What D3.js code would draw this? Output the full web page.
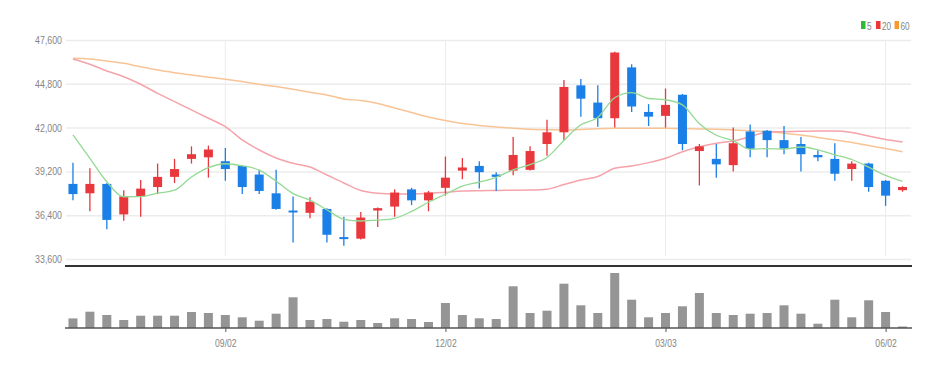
<!DOCTYPE html>
<html>
<head>
<meta charset="utf-8">
<script src="https://cdnjs.cloudflare.com/ajax/libs/d3/7.8.5/d3.min.js"></script>
<style>
  body { margin: 0; background: #fff; }
  text { font-family: "Liberation Sans", Arial, sans-serif; }
</style>
</head>
<body>
<div id="chart"></div>
<script>
// weekly candles (monday of each week)
var weeks = ["07/01", "07/08", "07/15", "07/22", "07/29", "08/05", "08/12", "08/19", "08/26", "09/02",
    "09/09", "09/16", "09/23", "09/30", "10/07", "10/14", "10/21", "10/28", "11/04", "11/11",
    "11/18", "11/25", "12/02", "12/09", "12/16", "12/23", "12/30", "01/06", "01/13", "01/20",
    "01/27", "02/03", "02/10", "02/17", "02/24", "03/03", "03/10", "03/17", "03/24", "03/31",
    "04/07", "04/14", "04/21", "04/28", "05/05", "05/12", "05/19", "05/26", "06/02", "06/09"];

var open = [38400, 37800, 38400, 36450, 37600, 38200, 38850, 40000, 40100, 39850,
    39550, 39000, 37800, 36700, 36550, 36800, 35000, 34900, 36700, 36950,
    38050, 37350, 38150, 39250, 39550, 39000, 39250, 39300, 40950, 41700,
    44700, 43600, 42600, 45850, 43000, 42750, 44100, 40500, 40000, 39600,
    41750, 41800, 41200, 40950, 40250, 40000, 39350, 39700, 38600, 38000];
var high = [39750, 39400, 38450, 38000, 38650, 39700, 40000, 40800, 40850, 40700,
    39600, 39300, 39300, 37600, 37550, 36850, 36300, 36600, 36900, 38050,
    38150, 37950, 40150, 40050, 39850, 39150, 41400, 40800, 42500, 45050,
    45100, 44700, 46850, 46050, 43500, 44500, 44150, 40950, 40950, 42000,
    42200, 41850, 42100, 41400, 40550, 41000, 39850, 39750, 38650, 38250];
var low = [37350, 36650, 35500, 36050, 36300, 37750, 38450, 39700, 38800, 38600,
    37750, 37750, 36750, 34650, 36200, 34650, 34450, 34850, 35650, 36300,
    37050, 36650, 37650, 38700, 38100, 37950, 38950, 39250, 40200, 41200,
    42700, 42050, 42000, 43000, 42100, 42000, 40550, 38300, 38800, 39200,
    40100, 40100, 40300, 39200, 39850, 38600, 38600, 37900, 37000, 37900];
var close = [37750, 38400, 36100, 37600, 38100, 38850, 39350, 40300, 40600, 39350,
    38200, 37950, 36800, 36600, 37250, 35150, 34900, 36250, 36850, 37850,
    37350, 37850, 38800, 39450, 39150, 38850, 40250, 40500, 41700, 44600,
    43850, 42600, 46800, 43350, 42700, 43450, 40950, 40800, 39650, 41000,
    40650, 41200, 40650, 40300, 40100, 39050, 39700, 38200, 37650, 38200];
var volume = [9600, 16300, 13000, 8000, 12300, 12300, 12300, 16000, 15000, 13000,
    10700, 7300, 14300, 30700, 8000, 9000, 6300, 8000, 5000, 9700,
    9000, 6000, 25000, 13000, 9700, 9000, 41700, 15000, 17300, 44300,
    22700, 15000, 55000, 28300, 10700, 15000, 21700, 35000, 15000, 13000,
    14300, 15000, 22700, 14300, 4300, 28300, 10700, 27700, 16000, 1500];

// moving averages
var ma5 = [41530, 40040, 38540, 37580, 37590, 37810, 38000, 38840, 39440, 39690,
    39560, 39280, 38580, 37780, 37360, 36750, 36140, 36030, 36080, 36200,
    36640, 37230, 37740, 38260, 38520, 38820, 39300, 39640, 40090, 41180,
    42180, 42650, 43910, 44240, 43860, 43780, 43450, 42250, 41510, 41170,
    40610, 40660, 40630, 40760, 40580, 40260, 39960, 39470, 38940, 38560];
var ma20 = [46390, 46050, 45620, 45250, 44770, 44190, 43660, 43130, 42600, 42060,
    41210, 40570, 40060, 39720, 39480, 38970, 38460, 37980, 37800, 37750,
    37750, 37800, 37860, 37950, 37970, 37980, 38000, 38010, 38060, 38360,
    38650, 38870, 39400, 39550, 39760, 40040, 40460, 40780, 41000, 41140,
    41420, 41720, 41740, 41760, 41780, 41780, 41690, 41460, 41240, 41080];
var ma60 = [46430, 46390, 46260, 46110, 45890, 45680, 45510, 45360, 45220, 45090,
    44940, 44770, 44620, 44450, 44260, 44090, 43830, 43730, 43540, 43250,
    42970, 42680, 42450, 42260, 42140, 42040, 41960, 41890, 41860, 41850,
    41880, 41920, 41960, 41960, 41960, 41960, 41940, 41910, 41890, 41850,
    41800, 41740, 41640, 41530, 41370, 41210, 41050, 40860, 40660, 40460];

var priceTicks = [33600, 36400, 39200, 42000, 44800, 47600];
var dateTicks = ["09/02", "12/02", "03/03", "06/02"];

var svgWidth = 950;
var svgHeight = 369;

var svg = d3.select("#chart")
    .append("svg")
    .attr("width", svgWidth)
    .attr("height", svgHeight);

//scales
var x = d3.scalePoint()
    .domain(weeks)
    .range([64.5, 911])
    .padding(0.5);

var y = d3.scaleLinear()
    .domain([33600, 47600])
    .range([259, 40]);

var yVol = d3.scaleLinear()
    .domain([0, 60000])
    .range([328, 268]);

var upColor = "#e8383d";
var downColor = "#1a7fe6";
var labelColor = "#858585";

//horizontal grid + price labels
var leftAxis = d3.axisLeft(y)
    .tickValues(priceTicks)
    .tickFormat(d3.format(","))
    .tickSize(-(911 - 66))
    .tickPadding(5);

var yAxisGroup = svg.append("g")
    .attr("transform", "translate(66, 0)")
    .call(leftAxis);
yAxisGroup.select(".domain").remove();
yAxisGroup.selectAll("line").attr("stroke", "#ececec").attr("stroke-width", 1.5);
// condensed look for the labels
yAxisGroup.selectAll("text")
    .attr("fill", labelColor)
    .attr("transform", "scale(0.8,1)")
    .style("font-size", "11px");

//vertical grid at date ticks
svg.append("g")
    .selectAll("line")
    .data(dateTicks)
    .enter()
    .append("line")
    .attr("x1", d => x(d))
    .attr("x2", d => x(d))
    .attr("y1", 40)
    .attr("y2", 256)
    .attr("stroke", "#ececec")
    .attr("stroke-width", 1);

//moving average lines
function maLine(values) {
    return d3.line()
        .x((d, i) => x(weeks[i]))
        .y(d => y(d))
        .curve(d3.curveMonotoneX)(values);
}

svg.append("path").attr("d", maLine(ma60))
    .attr("fill", "none").attr("stroke", "#f8c496").attr("stroke-width", 1.5);
svg.append("path").attr("d", maLine(ma20))
    .attr("fill", "none").attr("stroke", "#f5a3ab").attr("stroke-width", 1.5);

//candles
var candles = svg.append("g")
    .selectAll("g")
    .data(weeks)
    .enter()
    .append("g");

candles.append("line")
    .attr("x1", d => x(d))
    .attr("x2", d => x(d))
    .attr("y1", (d, i) => y(high[i]))
    .attr("y2", (d, i) => y(low[i]))
    .attr("stroke", (d, i) => close[i] >= open[i] ? upColor : downColor)
    .attr("stroke-width", 1.3);

candles.append("rect")
    .attr("x", d => x(d) - 4.5)
    .attr("width", 9)
    .attr("y", (d, i) => y(Math.max(open[i], close[i])))
    .attr("height", (d, i) => Math.max(2, Math.abs(y(open[i]) - y(close[i]))))
    .attr("fill", (d, i) => close[i] >= open[i] ? upColor : downColor);

svg.append("path").attr("d", maLine(ma5))
    .attr("fill", "none").attr("stroke", "#93d993").attr("stroke-width", 1.3);

//price panel bottom line
svg.append("line")
    .attr("x1", 65)
    .attr("x2", 912)
    .attr("y1", 266)
    .attr("y2", 266)
    .attr("stroke", "#333")
    .attr("stroke-width", 2);

//volume bars
svg.append("g")
    .selectAll("rect")
    .data(weeks)
    .enter()
    .append("rect")
    .attr("x", d => x(d) - 4.5)
    .attr("width", 9)
    .attr("y", (d, i) => yVol(volume[i]))
    .attr("height", (d, i) => 328 - yVol(volume[i]))
    .attr("fill", "#959595");

//date axis under volume
var bottomAxis = d3.axisBottom(x)
    .tickValues(dateTicks)
    .tickSize(4)
    .tickSizeOuter(0)
    .tickPadding(7);

var xAxisGroup = svg.append("g")
    .attr("transform", "translate(0, 328)")
    .call(bottomAxis);
xAxisGroup.select(".domain")
    .attr("d", "M65,0H912")
    .attr("stroke", "#555")
    .attr("stroke-width", 1.5);
xAxisGroup.selectAll("line").attr("stroke", "#555");
xAxisGroup.selectAll("text")
    .attr("fill", labelColor)
    .attr("transform", "scale(0.78,1)")
    .style("font-size", "11px");

//legend
var legendNames = ["5", "20", "60"];
var legendColors = ["#2dbb35", "#ee3535", "#f59a2e"];
var legendX = [861, 876, 894.5];

var legend = svg.append("g")
    .selectAll("g")
    .data(legendNames)
    .enter()
    .append("g")
    .attr("transform", (d, i) => `translate(${legendX[i]}, 21)`);

legend.append("rect")
    .attr("width", 4.5)
    .attr("height", 8)
    .attr("fill", (d, i) => legendColors[i]);

legend.append("text")
    .attr("transform", "translate(6, 8.5) scale(0.75,1)")
    .attr("fill", labelColor)
    .style("font-size", "11px")
    .text(d => d);
</script>
</body>
</html>
